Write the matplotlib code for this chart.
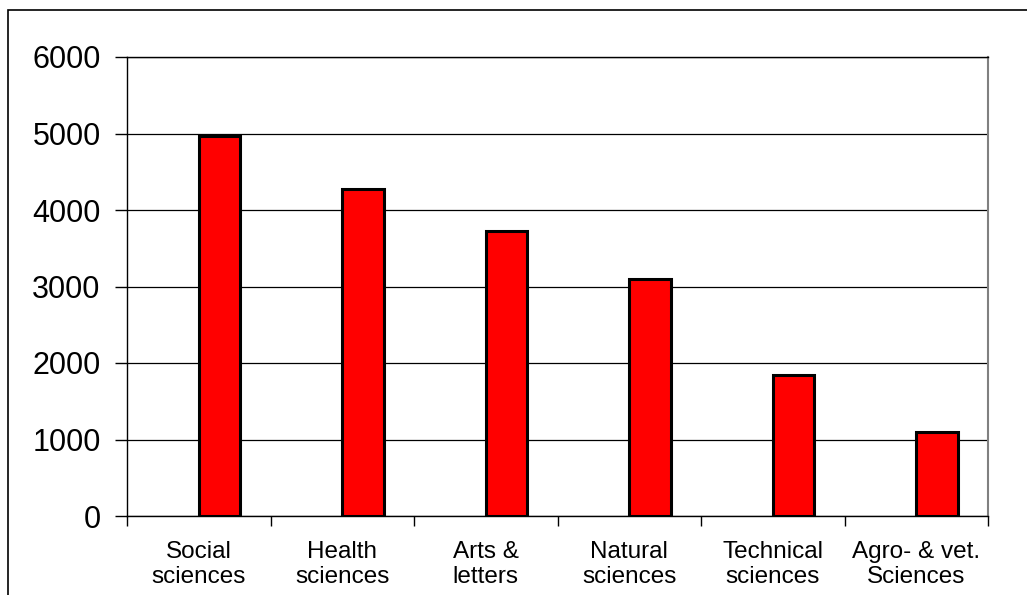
import numpy as np
import matplotlib
matplotlib.use('Agg')
import matplotlib.pyplot as plt
from matplotlib.patches import Rectangle

categories = ['Social\nsciences', 'Health\nsciences', 'Arts &\nletters',
              'Natural\nsciences', 'Technical\nsciences', 'Agro- & vet.\nSciences']
values = [4970, 4275, 3720, 3095, 1840, 1100]
y_ticks = [0, 1000, 2000, 3000, 4000, 5000, 6000]

plt.rcParams['font.family'] = ['Liberation Sans', 'DejaVu Sans']

fig = plt.figure(figsize=(10.27, 5.95), dpi=100)
# outer chart frame
fig.patches.append(Rectangle((8 / 1027, -0.05), 1.1, 1 - 10 / 595 + 0.05,
                             transform=fig.transFigure, fill=False,
                             edgecolor='black', linewidth=1.2))

ax = fig.add_axes([127 / 1027, 79 / 595, 861 / 1027, 459 / 595])
x = np.arange(len(categories))
ax.bar(x, values, width=0.29, align='edge', color='#ff0000',
       edgecolor='black', linewidth=2.2, zorder=3)

ax.set_xlim(-0.5, len(categories) - 0.5)
ax.set_ylim(0, 6000)
ax.set_yticks(y_ticks)
ax.set_yticklabels([str(v) for v in y_ticks], fontsize=22)
ax.tick_params(axis='y', length=9, width=1, pad=10, direction='out')
ax.yaxis.grid(True, color='black', linewidth=0.9)
ax.set_axisbelow(True)

ax.set_xticks(x)
ax.set_xticklabels(categories, fontsize=17.5, linespacing=1.15)
ax.tick_params(axis='x', which='major', length=0, pad=18)
ax.set_xticks(np.arange(len(categories) + 1) - 0.5, minor=True)
ax.tick_params(axis='x', which='minor', length=7, width=1, direction='out')

for side in ['left', 'bottom', 'top']:
    ax.spines[side].set_color('black')
    ax.spines[side].set_linewidth(1)
ax.spines['right'].set_color('#808080')
ax.spines['right'].set_linewidth(1.5)

fig.savefig('out.png', dpi=100)
